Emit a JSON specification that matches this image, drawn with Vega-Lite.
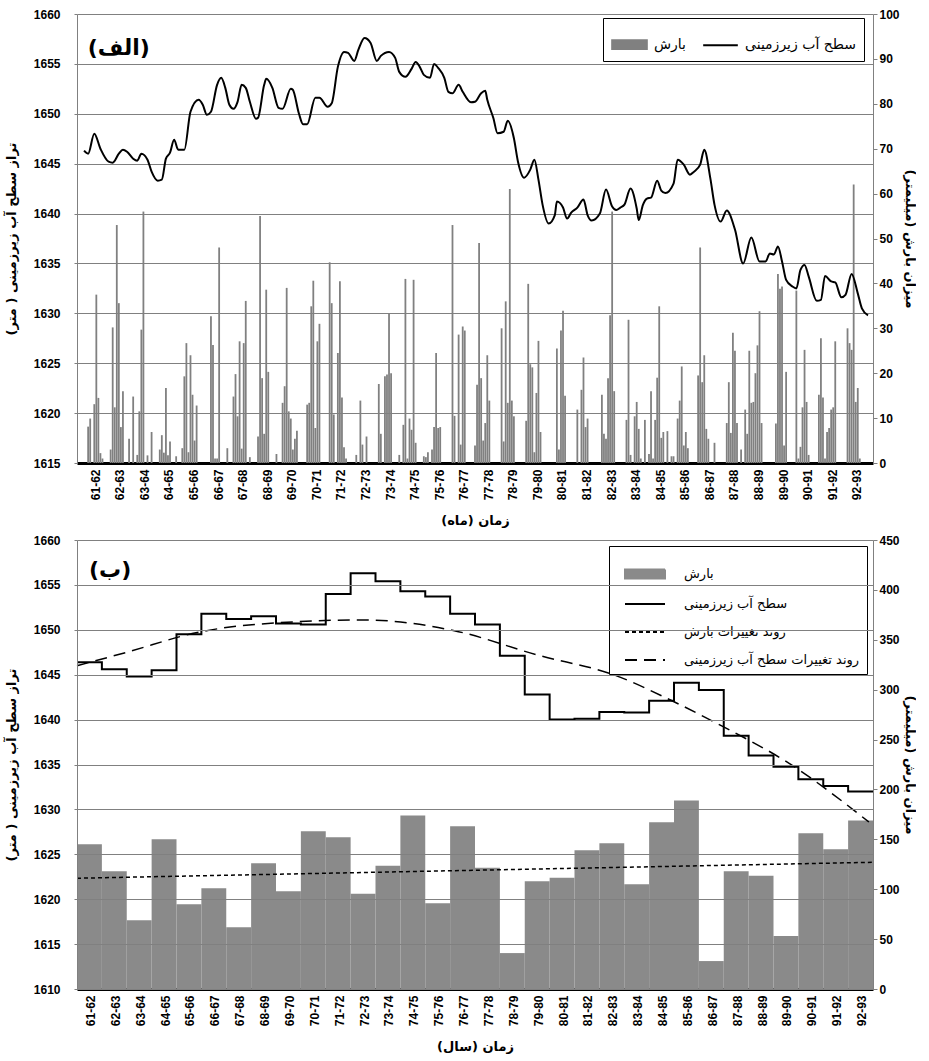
{
"$schema": "https://vega.github.io/schema/vega-lite/v6.json",
"padding": {"left": 5, "top": 8, "right": 0, "bottom": 2},
"spacing": 77,
"bounds": "flush",
"datasets": {
"rain": [{"m":3,"p":8.1},{"m":4,"p":9.9},{"m":6,"p":13.1},{"m":7,"p":37.5},{"m":8,"p":14.5},{"m":9,"p":2.2},{"m":10,"p":1},
{"m":14,"p":3},{"m":15,"p":30.2},{"m":16,"p":12.4},{"m":17,"p":53},{"m":18,"p":35.6},{"m":19,"p":8},{"m":20,"p":16},{"m":23,"p":5.4},{"m":25,"p":14.8},{"m":27,"p":1.8},{"m":28,"p":11.5},{"m":29,"p":29.7},{"m":30,"p":56},{"m":32,"p":1.7},{"m":34,"p":6.9},
{"m":38,"p":3},{"m":39,"p":6.2},{"m":40,"p":2.3},{"m":41,"p":16.7},{"m":42,"p":1.7},{"m":43,"p":4.8},{"m":46,"p":1.5},
{"m":49,"p":3.3},{"m":50,"p":19.3},{"m":51,"p":26.7},{"m":52,"p":2.4},{"m":53,"p":24},{"m":54,"p":15.2},{"m":55,"p":5},{"m":56,"p":12.8},
{"m":63,"p":32.7},{"m":64,"p":26.3},{"m":65,"p":1},{"m":66,"p":1},{"m":67,"p":48},{"m":71,"p":3.3},
{"m":74,"p":14.8},{"m":75,"p":19.8},{"m":76,"p":10.4},{"m":77,"p":27.1},{"m":78,"p":3.2},{"m":79,"p":26.7},{"m":80,"p":36.1},{"m":82,"p":1.3},
{"m":86,"p":5.9},{"m":87,"p":55},{"m":88,"p":18.9},{"m":89,"p":6.5},{"m":90,"p":38.6},{"m":91,"p":20.3},{"m":95,"p":2},
{"m":98,"p":13.4},{"m":99,"p":17.1},{"m":100,"p":39},{"m":101,"p":11.5},{"m":102,"p":9.9},{"m":103,"p":3},{"m":104,"p":5.4},{"m":105,"p":7.2},
{"m":110,"p":13},{"m":111,"p":13.4},{"m":112,"p":34.9},{"m":113,"p":40.6},{"m":114,"p":7.8},{"m":115,"p":27.1},{"m":116,"p":31},
{"m":121,"p":44.7},{"m":122,"p":35.6},{"m":123,"p":10.8},{"m":125,"p":24.5},{"m":126,"p":40.5},{"m":127,"p":14.6},{"m":128,"p":3.5},{"m":129,"p":1},
{"m":134,"p":1.8},{"m":136,"p":13.9},{"m":137,"p":4.1},{"m":139,"p":5.9},
{"m":145,"p":17.6},{"m":146,"p":6.5},{"m":148,"p":19.3},{"m":149,"p":19.7},{"m":150,"p":33.4},{"m":151,"p":20},
{"m":155,"p":1.8},{"m":157,"p":8.5},{"m":158,"p":41},{"m":159,"p":1},{"m":160,"p":9.9},{"m":161,"p":7.4},{"m":162,"p":40.8},{"m":163,"p":4.5},
{"m":167,"p":1.5},{"m":168,"p":1.3},{"m":169,"p":2.4},{"m":171,"p":3},{"m":172,"p":8},{"m":173,"p":24.5},{"m":174,"p":7.8},{"m":175,"p":8},
{"m":181,"p":53},{"m":182,"p":10.5},{"m":184,"p":28.6},{"m":185,"p":4.1},{"m":186,"p":30.4},{"m":187,"p":29.5},
{"m":192,"p":3.9},{"m":193,"p":17.4},{"m":194,"p":49},{"m":195,"p":18.9},{"m":196,"p":5},{"m":197,"p":8.9},{"m":198,"p":24},{"m":199,"p":13.9},
{"m":205,"p":30},{"m":206,"p":4.8},{"m":207,"p":36},{"m":208,"p":13.4},{"m":209,"p":61},{"m":210,"p":13.9},{"m":211,"p":10.4},
{"m":217,"p":9.4},{"m":218,"p":39.9},{"m":219,"p":22},{"m":220,"p":21.3},{"m":221,"p":2.4},{"m":222,"p":15.6},{"m":223,"p":27.2},{"m":224,"p":6.9},
{"m":232,"p":25.5},{"m":233,"p":3},{"m":234,"p":29.5},{"m":235,"p":33.9},{"m":236,"p":15},
{"m":242,"p":11.9},{"m":244,"p":16.3},{"m":245,"p":23.5},{"m":246,"p":8},{"m":247,"p":9.9},
{"m":254,"p":15.2},{"m":255,"p":6.5},{"m":256,"p":5.4},{"m":257,"p":18.9},{"m":258,"p":32.9},{"m":259,"p":56},{"m":260,"p":16},
{"m":266,"p":9.6},{"m":267,"p":31.9},{"m":268,"p":1.8},{"m":270,"p":10.4},{"m":271,"p":13.6},{"m":272,"p":7.6},{"m":273,"p":1},{"m":275,"p":9.6},
{"m":277,"p":2},{"m":278,"p":16},{"m":279,"p":1},{"m":280,"p":9.6},{"m":281,"p":19},{"m":282,"p":34.9},{"m":283,"p":5.6},{"m":284,"p":6.9},
{"m":286,"p":7.1},{"m":288,"p":1.5},{"m":289,"p":1.5},
{"m":291,"p":9.9},{"m":292,"p":13.9},{"m":293,"p":21.5},{"m":294,"p":3.9},{"m":295,"p":6.9},{"m":296,"p":3.3},
{"m":301,"p":19.5},{"m":302,"p":48},{"m":303,"p":18},{"m":304,"p":24},{"m":305,"p":7.6},{"m":306,"p":5.4},{"m":309,"p":4.5},
{"m":315,"p":8.9},{"m":316,"p":18},{"m":317,"p":6.7},{"m":318,"p":29},{"m":319,"p":25},{"m":320,"p":8.9},{"m":322,"p":3},
{"m":324,"p":11.9},{"m":325,"p":6.5},{"m":326,"p":25},{"m":327,"p":13.4},{"m":328,"p":13.6},{"m":329,"p":20},{"m":330,"p":26.2},{"m":331,"p":33.8},{"m":332,"p":8.9},
{"m":339,"p":8.8},{"m":340,"p":42.1},{"m":341,"p":38.8},{"m":342,"p":39.3},{"m":343,"p":3.9},{"m":344,"p":20.3},
{"m":349,"p":38.4},{"m":350,"p":1},{"m":351,"p":3.6},{"m":352,"p":12.4},{"m":353,"p":25.2},{"m":354,"p":13.6},{"m":355,"p":1.8},
{"m":360,"p":15.2},{"m":361,"p":27.8},{"m":362,"p":14.6},{"m":363,"p":1},{"m":364,"p":6.9},{"m":365,"p":7.8},{"m":366,"p":11.9},{"m":367,"p":12.4},{"m":368,"p":27.1},
{"m":374,"p":30},{"m":375,"p":26.7},{"m":376,"p":25.2},{"m":377,"p":62},{"m":378,"p":13.6},{"m":379,"p":16.7},{"m":380,"p":1}],
"gw": [{"m":1,"gw":1646.3},{"m":3,"gw":1646.0},{"m":6,"gw":1648.0},{"m":9,"gw":1646.5},{"m":13,"gw":1645.2},{"m":15,"gw":1645.1},{"m":18,"gw":1646.0},{"m":20,"gw":1646.4},{"m":22,"gw":1646.2},{"m":25,"gw":1645.5},{"m":27,"gw":1645.3},{"m":29,"gw":1646.0},{"m":32,"gw":1645.4},{"m":34,"gw":1644.2},{"m":37,"gw":1643.3},{"m":39,"gw":1643.4},{"m":41,"gw":1645.5},{"m":43,"gw":1646.1},{"m":45,"gw":1647.4},{"m":47,"gw":1646.4},{"m":50,"gw":1646.4},{"m":53,"gw":1650.2},{"m":57,"gw":1651.4},{"m":59,"gw":1650.9},{"m":61,"gw":1649.9},{"m":63,"gw":1650.2},{"m":66,"gw":1652.9},{"m":68,"gw":1653.6},{"m":70,"gw":1652.6},{"m":72,"gw":1650.9},{"m":74,"gw":1650.5},{"m":76,"gw":1651.2},{"m":78,"gw":1652.9},{"m":80,"gw":1652.6},{"m":82,"gw":1651.2},{"m":85,"gw":1649.5},{"m":86,"gw":1649.6},{"m":89,"gw":1652.9},{"m":90,"gw":1653.5},{"m":93,"gw":1652.6},{"m":96,"gw":1650.6},{"m":98,"gw":1650.5},{"m":102,"gw":1652.5},{"m":103,"gw":1652.4},{"m":106,"gw":1650.0},{"m":108,"gw":1648.95},{"m":110,"gw":1648.95},{"m":114,"gw":1651.6},{"m":116,"gw":1651.6},{"m":120,"gw":1650.7},{"m":122,"gw":1651.05},{"m":125,"gw":1654.7},{"m":128,"gw":1656.2},{"m":130,"gw":1656.1},{"m":133,"gw":1655.3},{"m":135,"gw":1656.4},{"m":138,"gw":1657.6},{"m":141,"gw":1657.1},{"m":144,"gw":1655.3},{"m":146,"gw":1655.8},{"m":150,"gw":1656.2},{"m":153,"gw":1655.6},{"m":155,"gw":1654.2},{"m":158,"gw":1653.7},{"m":161,"gw":1654.5},{"m":163,"gw":1655.2},{"m":165,"gw":1654.7},{"m":167,"gw":1653.9},{"m":170,"gw":1653.6},{"m":172,"gw":1655.0},{"m":174,"gw":1654.6},{"m":177,"gw":1653.6},{"m":179,"gw":1652.2},{"m":181,"gw":1652.05},{"m":184,"gw":1652.9},{"m":186,"gw":1652.2},{"m":190,"gw":1651.15},{"m":192,"gw":1651.2},{"m":195,"gw":1652.05},{"m":197,"gw":1652.3},{"m":198,"gw":1651.4},{"m":201,"gw":1649.55},{"m":203,"gw":1648.05},{"m":206,"gw":1648.2},{"m":208,"gw":1649.3},{"m":211,"gw":1647.55},{"m":213,"gw":1645.2},{"m":216,"gw":1643.6},{"m":219,"gw":1644.4},{"m":221,"gw":1645.4},{"m":223,"gw":1643.4},{"m":225,"gw":1640.9},{"m":228,"gw":1639.0},{"m":231,"gw":1639.85},{"m":232,"gw":1641.2},{"m":235,"gw":1640.6},{"m":237,"gw":1639.5},{"m":239,"gw":1640.1},{"m":242,"gw":1640.6},{"m":245,"gw":1641.4},{"m":247,"gw":1639.85},{"m":249,"gw":1639.3},{"m":253,"gw":1640.0},{"m":256,"gw":1642.4},{"m":259,"gw":1640.7},{"m":261,"gw":1640.35},{"m":263,"gw":1640.6},{"m":265,"gw":1640.9},{"m":268,"gw":1642.5},{"m":271,"gw":1640.5},{"m":272,"gw":1639.35},{"m":274,"gw":1640.85},{"m":276,"gw":1641.5},{"m":278,"gw":1641.6},{"m":281,"gw":1643.3},{"m":283,"gw":1642.3},{"m":285,"gw":1642.05},{"m":289,"gw":1643.0},{"m":291,"gw":1645.4},{"m":294,"gw":1644.9},{"m":297,"gw":1643.9},{"m":299,"gw":1644.2},{"m":302,"gw":1644.9},{"m":304,"gw":1646.4},{"m":307,"gw":1643.5},{"m":309,"gw":1640.9},{"m":312,"gw":1639.2},{"m":315,"gw":1640.3},{"m":319,"gw":1638.4},{"m":323,"gw":1635.0},{"m":327,"gw":1637.6},{"m":331,"gw":1635.2},{"m":334,"gw":1635.2},{"m":336,"gw":1636.0},{"m":338,"gw":1635.9},{"m":340,"gw":1636.7},{"m":342,"gw":1635.2},{"m":344,"gw":1633.35},{"m":347,"gw":1632.7},{"m":349,"gw":1632.5},{"m":351,"gw":1634.35},{"m":353,"gw":1634.85},{"m":355,"gw":1633.7},{"m":359,"gw":1631.25},{"m":361,"gw":1631.35},{"m":363,"gw":1633.75},{"m":366,"gw":1633.2},{"m":368,"gw":1633.1},{"m":371,"gw":1631.6},{"m":373,"gw":1631.85},{"m":376,"gw":1633.95},{"m":379,"gw":1632.0},{"m":381,"gw":1630.5},{"m":384,"gw":1629.8}],
"annual": [{"yr":"61-62","s":0,"e":12,"p":145},{"yr":"62-63","s":12,"e":24,"p":118},{"yr":"63-64","s":24,"e":36,"p":69},{"yr":"64-65","s":36,"e":48,"p":150},{"yr":"65-66","s":48,"e":60,"p":85},{"yr":"66-67","s":60,"e":72,"p":101},{"yr":"67-68","s":72,"e":84,"p":62},{"yr":"68-69","s":84,"e":96,"p":126},{"yr":"69-70","s":96,"e":108,"p":98},{"yr":"70-71","s":108,"e":120,"p":158},{"yr":"71-72","s":120,"e":132,"p":152},{"yr":"72-73","s":132,"e":144,"p":95.5},{"yr":"73-74","s":144,"e":156,"p":123.5},{"yr":"74-75","s":156,"e":168,"p":174},{"yr":"75-76","s":168,"e":180,"p":86},{"yr":"76-77","s":180,"e":192,"p":163},{"yr":"77-78","s":192,"e":204,"p":121.5},{"yr":"78-79","s":204,"e":216,"p":36},{"yr":"79-80","s":216,"e":228,"p":108},{"yr":"80-81","s":228,"e":240,"p":111.5},{"yr":"81-82","s":240,"e":252,"p":139},{"yr":"82-83","s":252,"e":264,"p":146},{"yr":"83-84","s":264,"e":276,"p":105},{"yr":"84-85","s":276,"e":288,"p":167},{"yr":"85-86","s":288,"e":300,"p":189},{"yr":"86-87","s":300,"e":312,"p":28},{"yr":"87-88","s":312,"e":324,"p":118},{"yr":"88-89","s":324,"e":336,"p":113.5},{"yr":"89-90","s":336,"e":348,"p":53},{"yr":"90-91","s":348,"e":360,"p":156},{"yr":"91-92","s":360,"e":372,"p":140},{"yr":"92-93","s":372,"e":384,"p":169}],
"gwstep": [{"m":0,"gw":1646.4},{"m":12,"gw":1645.6},{"m":24,"gw":1644.8},{"m":36,"gw":1645.5},{"m":48,"gw":1649.5},{"m":60,"gw":1651.8},{"m":72,"gw":1651.2},{"m":84,"gw":1651.5},{"m":96,"gw":1650.7},{"m":108,"gw":1650.6},{"m":120,"gw":1654.0},{"m":132,"gw":1656.3},{"m":144,"gw":1655.4},{"m":156,"gw":1654.3},{"m":168,"gw":1653.7},{"m":180,"gw":1651.8},{"m":192,"gw":1650.6},{"m":204,"gw":1647.1},{"m":216,"gw":1642.8},{"m":228,"gw":1640.0},{"m":240,"gw":1640.1},{"m":252,"gw":1640.85},{"m":264,"gw":1640.8},{"m":276,"gw":1642.1},{"m":288,"gw":1644.1},{"m":300,"gw":1643.3},{"m":312,"gw":1638.2},{"m":324,"gw":1636.0},{"m":336,"gw":1634.75},{"m":348,"gw":1633.35},{"m":360,"gw":1632.6},{"m":372,"gw":1632.0},{"m":384,"gw":1632.0}],
"trendgw": [{"m":0,"v":1646.0},{"m":24,"v":1647.5},{"m":58,"v":1649.7},{"m":106,"v":1650.9},{"m":138,"v":1651.1},{"m":182,"v":1649.9},{"m":222,"v":1647.2},{"m":260,"v":1644.9},{"m":287,"v":1642.1},{"m":311,"v":1639.3},{"m":343,"v":1635.2},{"m":382,"v":1628.6}],
"trendp": [{"m":0,"v":111},{"m":192,"v":119},{"m":384,"v":127}]
},
"resolve": {"scale": {"color": "independent"}, "legend": {"color": "independent"}},
"vconcat": [
{
 "width": 796, "height": 449,
 "resolve": {"scale": {"y": "independent"}},
 "layer": [
  {
   "data": {"name": "rain"},
   "mark": {"type": "bar", "width": 1.8},
   "encoding": {
    "x": {"field": "m", "type": "quantitative", "scale": {"domain": [0, 384], "nice": false, "zero": false},
      "axis": {"values": [6.5,18.5,30.5,42.5,54.5,66.5,78.5,90.5,102.5,114.5,126.5,138.5,150.5,162.5,174.5,186.5,198.5,210.5,222.5,234.5,246.5,258.5,270.5,282.5,294.5,306.5,318.5,330.5,342.5,354.5,366.5,378.5],
        "tickCount": 64,
        "labelExpr": "(61 + round((datum.value - 6.5)/12)) + '-' + (62 + round((datum.value - 6.5)/12))",
        "labelOverlap": false, "title": "زمان (ماه)"}},
    "y": {"field": "p", "type": "quantitative", "scale": {"domain": [0, 100], "nice": false},
      "axis": {"orient": "right", "values": [0,10,20,30,40,50,60,70,80,90,100], "format": "d", "grid": false, "tickSize": 4, "labelPadding": 2, "title": "میزان بارش (میلیمتر)", "titlePadding": 3}},
    "color": {"datum": "بارش", "type": "nominal",
      "scale": {"domain": ["بارش", "سطح آب زیرزمینی"], "range": ["#808080", "#000000"]},
      "legend": {"title": null, "orient": "none", "legendX": 526, "legendY": 4, "direction": "horizontal", "columnPadding": 12, "padding": 8, "labelOffset": 6, "symbolSize": 1200,
        "encode": {"symbols": {"update": {
          "shape": {"signal": "datum.index == 0 ? 'M-1,-0.25H1V0.25H-1Z' : 'M-1,0H1'"},
          "fill": {"signal": "datum.index == 0 ? '#808080' : 'transparent'"},
          "stroke": {"signal": "datum.index == 0 ? 'transparent' : 'black'"},
          "strokeWidth": {"value": 2},
          "size": {"value": 1200}}}}}}
   }
  },
  {
   "layer": [
    {
     "data": {"name": "gw"},
     "mark": {"type": "line", "interpolate": "monotone", "strokeWidth": 2},
     "encoding": {
      "x": {"field": "m", "type": "quantitative"},
      "y": {"field": "gw", "type": "quantitative", "scale": {"domain": [1615, 1660], "nice": false, "zero": false},
        "axis": {"orient": "left", "values": [1615,1620,1625,1630,1635,1640,1645,1650,1655,1660], "format": "d", "grid": true, "tickSize": 3, "labelPadding": 14, "title": "تراز سطح آب زیرزمینی ( متر)", "titlePadding": 15}},
      "color": {"datum": "سطح آب زیرزمینی", "type": "nominal"}
     }
    },
    {
     "data": {"values": [{"label": "(الف)", "m": 18, "lvl": 1656.6}]},
     "mark": {"type": "text", "font": "DejaVu Sans", "fontSize": 22, "fontWeight": "bold", "color": "black"},
     "encoding": {
      "x": {"field": "m", "type": "quantitative"},
      "y": {"field": "lvl", "type": "quantitative"},
      "text": {"field": "label"}
     }
    }
   ]
  }
 ]
},
{
 "width": 796, "height": 449,
 "resolve": {"scale": {"y": "independent"}},
 "layer": [
  {
   "layer": [
    {
     "data": {"name": "annual"},
     "mark": {"type": "bar"},
     "encoding": {
      "x": {"field": "s", "type": "quantitative", "scale": {"domain": [0, 384], "nice": false, "zero": false},
        "axis": {"values": [6.5,18.5,30.5,42.5,54.5,66.5,78.5,90.5,102.5,114.5,126.5,138.5,150.5,162.5,174.5,186.5,198.5,210.5,222.5,234.5,246.5,258.5,270.5,282.5,294.5,306.5,318.5,330.5,342.5,354.5,366.5,378.5],
          "tickCount": 64,
          "labelExpr": "(61 + round((datum.value - 6.5)/12)) + '-' + (62 + round((datum.value - 6.5)/12))",
          "labelOverlap": false, "title": "زمان (سال)"}},
      "x2": {"field": "e"},
      "y": {"field": "p", "type": "quantitative", "scale": {"domain": [0, 450], "nice": false},
        "axis": {"orient": "right", "values": [0,50,100,150,200,250,300,350,400,450], "format": "d", "grid": false, "tickSize": 4, "labelPadding": 2, "title": "میزان بارش (میلیمتر)", "titlePadding": 3}},
      "y2": {"datum": 0},
      "color": {"datum": "بارش", "type": "nominal",
        "scale": {"domain": ["بارش", "سطح آب زیرزمینی", "روند تغییرات بارش", "روند تغییرات سطح آب زیرزمینی"], "range": ["#8a8a8a", "#000000", "#000000", "#000000"]},
        "legend": {"title": null, "orient": "none", "legendX": 532, "legendY": 6, "direction": "vertical", "rowPadding": -5, "padding": 7, "symbolOffset": 8, "labelOffset": 18, "labelFontSize": 13, "symbolSize": 360,
          "encode": {"symbols": {"update": {
            "shape": {"signal": "datum.index == 0 ? 'M-1,-0.22H1V0.22H-1Z' : 'M-1,0H1'"},
            "fill": {"signal": "datum.index == 0 ? '#808080' : 'transparent'"},
            "stroke": {"signal": "datum.index == 0 ? 'transparent' : 'black'"},
            "strokeWidth": {"value": 2},
            "strokeDash": {"signal": "datum.index == 2 ? [4,3] : (datum.index == 3 ? [12,7] : [1,0])"},
            "size": {"value": 1600}}}}}}
     }
    },
    {
     "data": {"name": "trendp"},
     "mark": {"type": "line", "strokeWidth": 1.5, "strokeDash": [4, 3]},
     "encoding": {
      "x": {"field": "m", "type": "quantitative"},
      "y": {"field": "v", "type": "quantitative"},
      "color": {"datum": "روند تغییرات بارش", "type": "nominal"}
     }
    }
   ]
  },
  {
   "layer": [
    {
     "data": {"name": "gwstep"},
     "mark": {"type": "line", "interpolate": "step-after", "strokeWidth": 2},
     "encoding": {
      "x": {"field": "m", "type": "quantitative"},
      "y": {"field": "gw", "type": "quantitative", "scale": {"domain": [1610, 1660], "nice": false, "zero": false},
        "axis": {"orient": "left", "values": [1610,1615,1620,1625,1630,1635,1640,1645,1650,1655,1660], "format": "d", "grid": true, "zindex": 1, "tickSize": 3, "labelPadding": 14, "title": "تراز سطح آب زیرزمینی ( متر)", "titlePadding": 15}},
      "color": {"datum": "سطح آب زیرزمینی", "type": "nominal"}
     }
    },
    {
     "data": {"name": "trendgw"},
     "mark": {"type": "line", "interpolate": "monotone", "strokeWidth": 1.5, "strokeDash": [12, 7]},
     "encoding": {
      "x": {"field": "m", "type": "quantitative"},
      "y": {"field": "v", "type": "quantitative"},
      "color": {"datum": "روند تغییرات سطح آب زیرزمینی", "type": "nominal"}
     }
    },
    {
     "data": {"values": [{"label": "(ب)", "m": 16, "lvl": 1656.7}]},
     "mark": {"type": "text", "font": "DejaVu Sans", "fontSize": 22, "fontWeight": "bold", "color": "black"},
     "encoding": {
      "x": {"field": "m", "type": "quantitative"},
      "y": {"field": "lvl", "type": "quantitative"},
      "text": {"field": "label"}
     }
    }
   ]
  }
 ]
}
],
"config": {
 "view": {"stroke": null},
 "axis": {"labelFont": "Liberation Sans", "labelFontWeight": "bold", "labelFontSize": 12, "labelColor": "black",
   "titleFont": "DejaVu Sans", "titleFontWeight": "bold", "titleFontSize": 13, "titleColor": "black",
   "domainColor": "#808080", "tickColor": "#808080", "gridColor": "#808080", "gridOpacity": 1},
 "axisX": {"labelAngle": 270, "labelOverlap": false, "labelFlush": false, "labelBound": false, "ticks": false, "grid": false, "domainColor": "black", "domainWidth": 3, "labelPadding": 6, "titlePadding": 15},
 "legend": {"labelFont": "DejaVu Sans", "labelFontSize": 14, "labelColor": "black", "strokeColor": "black", "fillColor": "white", "labelLimit": 400}
}
}
